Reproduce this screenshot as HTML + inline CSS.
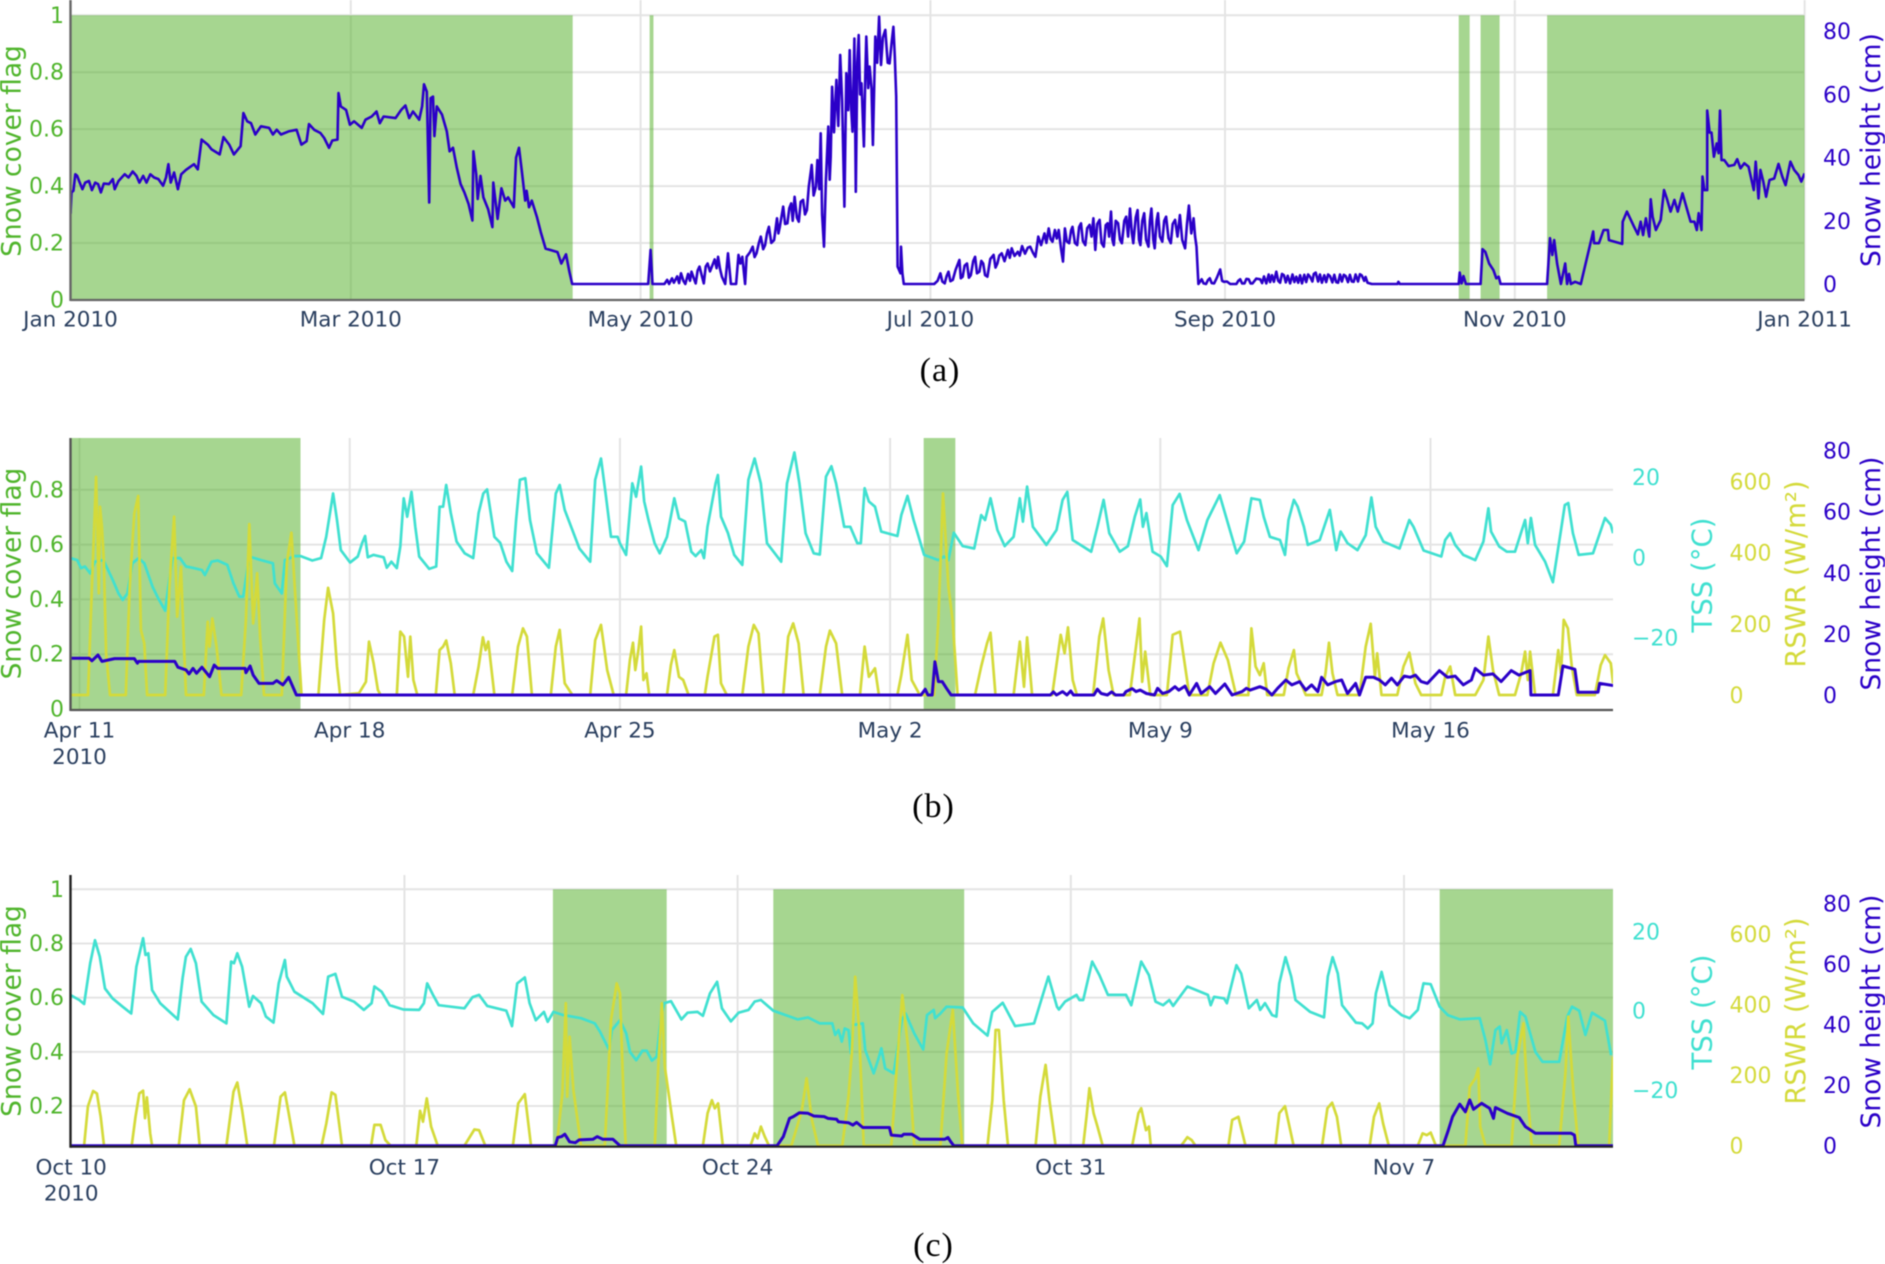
<!DOCTYPE html>
<html lang="en">
<head>
<meta charset="utf-8">
<title>Snow cover flag, snow height, TSS and RSWR</title>
<style>
html,body{margin:0;padding:0;background:#fff;}
svg{display:block;font-family:"DejaVu Sans","Liberation Sans",sans-serif;filter:blur(0.4px);}
</style>
</head>
<body>
<svg id="figure" xmlns="http://www.w3.org/2000/svg" width="1885" height="1264" viewBox="0 0 1885 1264"></svg>
<script>
// ---- Panel (a): [day since 1 Jan 2010, value] ----
const flagBandsA = [[0,105.7],[121.9,122.7],[292.2,294.5],[296.8,300.8],[310.8,365]];
const xTicksA = [[0,'Jan 2010'],[59,'Mar 2010'],[120,'May 2010'],[181,'Jul 2010'],[243,'Sep 2010'],[304,'Nov 2010'],[365,'Jan 2011']];
const flagTicksA = [0,0.2,0.4,0.6,0.8,1];
const snowTicksA = [0,20,40,60,80];
const snowA = [[0,22.2],[.2,29],[.6,29.5],[1,34.7],[1.4,34.2],[1.8,32.6],[2.5,30],[3.1,32.1],[3.9,32.6],[4.5,29.7],[5.2,32.1],[5.8,31.6],[6.4,29],[7,31.8],[8.1,31.6],[8.9,33.2],[9.3,30],[10.1,32.6],[11.4,34.7],[12.2,33.7],[13.1,35.6],[13.9,34.2],[14.5,32.1],[15.3,34.2],[16,32.1],[16.8,34.7],[17.6,33.7],[18.5,33.2],[19.5,31.1],[20.1,33.7],[20.6,37.9],[21.1,32.1],[21.8,35.3],[22.6,30],[23.3,34.7],[24.3,36.1],[26,37.9],[26.8,36.3],[27.6,45.7],[28.9,44.1],[29.7,42.6],[31.4,41],[32.2,46.5],[33.4,44.1],[34.4,41],[35.8,43.6],[36.4,54.1],[37.2,51.5],[38,50.9],[38.9,47.3],[40.1,49.9],[41.8,49.4],[42.6,47.3],[43.4,48.8],[44.3,47.3],[45.9,48.3],[47.6,48.8],[48.6,44.1],[49.7,45.2],[50.2,50.6],[51.3,48.8],[52.6,47.8],[53.4,46.2],[54.4,43.1],[55.1,45.4],[56.2,45.7],[56.4,60.4],[56.9,56.2],[58,55.1],[58.8,50.4],[59.7,51.5],[61.3,49.4],[62.1,52],[63.4,53],[64.4,54.6],[65.1,50.9],[65.9,53],[68.4,52.5],[69.6,55.1],[70.5,56.5],[71.3,52.5],[72.1,54.6],[73.4,52],[74,56.2],[74.4,63.2],[75,60.9],[75.5,25.8],[75.8,58.8],[76.3,59.3],[76.6,46.8],[77.1,56.2],[78.2,53.6],[79.2,48.3],[79.8,42],[80.5,43.1],[81.3,36.8],[82.1,31.6],[82.9,29],[83.8,25.3],[84.6,20.1],[84.8,42],[85.4,34.7],[85.7,26.9],[86.3,34.2],[86.9,27.4],[87.9,23.7],[88.8,18],[89,32.1],[89.9,20.6],[90.7,30.3],[91.5,26.4],[92.1,27.4],[93.3,24.3],[93.8,40],[94.4,43.1],[95,35.8],[95.7,26.4],[96,29.5],[96.5,24.3],[97.1,26.4],[98.2,21.1],[99,16.4],[100,11.2],[101.2,10.7],[102.5,10.1],[103.3,6.5],[104.3,9.4],[105,3.9],[105.6,0],
[121.6,0],[122.1,10.8],[122.5,0],[125,0],[125.6,1.3],[126,0],[126.6,1.8],[127,.4],[127.7,2.4],[128.1,.3],[128.5,3.4],[129,1],[129.4,0],[130,3.2],[130.4,1],[130.7,3.9],[131.2,1.8],[131.6,.2],[132,4.2],[132.4,5.5],[132.9,2.5],[133.3,.2],[133.7,5.5],[134.1,6.5],[134.6,4],[135,5.5],[135.6,7.8],[136,5],[136.3,8.6],[136.7,4.8],[137.1,2.3],[137.8,0],[138.4,9.7],[139,0],[140.1,0],[140.6,9.2],[141,6.5],[141.4,8.6],[142,0],[142.3,8.6],[143,10],[143.6,11.8],[144,8.5],[144.4,9.7],[144.9,13],[145.3,15],[145.8,11],[146.2,12.3],[146.6,16],[147,18.1],[147.5,13],[148.1,13.9],[148.7,20.8],[149,16],[149.3,18.1],[150,24.5],[150.4,19],[150.9,19.2],[151.3,24],[151.7,25.5],[152,20],[152.4,27.6],[152.9,21],[153.3,19.7],[153.7,26],[154.2,26.6],[154.6,22],[155,23.4],[155.4,30.8],[156,37.7],[156.4,28],[156.9,30.8],[157.2,39.2],[157.6,30],[157.9,47.7],[158.2,22],[158.6,11.8],[159,32.9],[159.5,49.8],[159.8,33],[160,40.3],[160.3,62.4],[160.7,48],[161.2,64.6],[161.6,50],[162,72.5],[162.4,58],[162.9,24.5],[163.3,66.7],[163.7,55],[164,74],[164.3,56],[164.6,48.2],[165,77.7],[165.3,29.2],[165.6,70],[165.9,78.8],[166.2,60],[166.5,63.5],[167,43.5],[167.3,66],[167.5,78.3],[167.9,62],[168.2,68.8],[168.6,62],[168.9,44],[169.4,78.3],[169.8,70],[170.2,84.6],[170.6,69.3],[171,78],[171.5,80.4],[172,70],[172.4,69.8],[172.8,76],[173.2,81.4],[173.5,72],[173.8,59.3],[174.1,5.5],[174.7,3.4],[174.8,11.8],[175.1,3.4],[175.4,0],
[181.8,0],[182.5,1],[183.1,3.4],[183.5,.8],[184,.2],[184.4,2.5],[184.8,3.9],[185.2,.9],[185.7,1.3],[186.3,4.5],[187.1,7.6],[187.4,1.8],[187.8,2.3],[188.2,5.8],[188.7,6.5],[189.1,2],[189.5,2.8],[190,7.2],[190.4,8.6],[190.8,3.4],[191.3,3.9],[191.7,7.3],[192.1,6.5],[192.5,2.8],[193,2.3],[193.6,7.9],[194.3,9.2],[194.7,5.2],[195.1,6.5],[195.5,9],[196,9.7],[196.6,7.2],[197.3,10.8],[197.7,8.3],[198.1,11.3],[198.7,8.9],[199.4,10.2],[199.8,9],[200.3,12],[200.9,9.6],[201.5,11.5],[202,11.8],[202.6,9.8],[203.1,8.6],[203.7,15],[204.3,12.3],[205,16],[205.4,13],[205.9,17.6],[206.3,14.2],[206.7,13.4],[207.2,17.1],[207.6,14.4],[208,17.1],[208.5,11],[208.9,7.1],[209.3,17.6],[209.7,13.5],[210.2,12.9],[210.6,17],[210.9,18.1],[211.4,13],[211.9,12.3],[212.3,18],[212.7,19.2],[213.1,13.6],[213.6,12.3],[214,17.7],[214.5,18.7],[214.9,15],[215.3,20.8],[215.7,10.8],[216.1,19],[216.6,20.3],[217,13],[217.5,11.8],[217.9,18.6],[218.3,19.2],[218.6,15],[219,22.9],[219.3,14],[219.6,12.3],[220,20],[220.5,19.2],[220.9,14],[221.3,12.9],[221.8,20],[222.2,21.3],[222.6,15],[223,23.9],[223.4,16],[223.7,12.9],[224.2,21],[224.6,23.4],[224.9,14],[225.2,12.3],[225.6,20],[226,22.4],[226.4,14],[226.9,11.8],[227.2,20],[227.5,23.9],[227.9,14],[228.2,11.3],[228.6,20],[228.9,22.4],[229.3,15],[229.8,13.4],[230.2,20],[230.6,21.3],[231.1,14.5],[231.6,12.9],[232,19],[232.5,20.3],[233,15],[233.5,21.8],[234,14],[234.6,11.3],[235,19],[235.4,24.8],[235.9,16],[236.4,20.8],[236.7,15],[237,11.8],[237.4,0],[238.1,1.5],[238.5,.2],[239,0],[239.4,1.2],[239.8,1.8],[240.2,.3],[240.7,.2],[241.3,2],[242,4.6],[242.4,1],[242.8,.7],[243.4,.8],[244.1,0],[245.4,0],[245.8,1],[246.2,1.5],[246.6,.2],[247.1,.2],[247.5,1.6],[248,1.5],[248.4,.2],[248.8,.2],[249.6,1.7],[250.4,1.5],
[250.8,.3],[251.2,2.4],[251.7,.2],[252.2,3],[252.5,.6],[252.9,2.8],[253.3,.7],[253.8,3.9],[254.2,1],[254.6,.4],[255,3.2],[255.4,2.8],[255.8,.5],[256.2,2.6],[256.7,.2],[257.2,3],[257.6,.6],[258,2.3],[258.4,.4],[258.8,2.8],[259.2,.2],[259.7,2.9],[260.1,.6],[260.5,3],[260.9,2.3],[261.4,.8],[261.7,3.2],[262.1,3.6],[262.6,.8],[263,3],[263.4,.4],[263.9,2.8],[264.3,.6],[264.7,3],[265.1,2.5],[265.6,.5],[266,2.9],[266.4,.6],[266.8,.4],[267.2,3],[267.6,.8],[268,2.9],[268.4,2.5],[268.9,.6],[269.3,2.9],[269.7,.8],[270.1,.7],[270.5,3],[271,.8],[271.4,3.1],[271.8,2.7],[272.3,1],[272.6,2.2],[273,.4],[273.9,0],[279.3,0],[279.5,.7],[279.8,0],[292.2,0],[292.4,3.6],[292.8,.2],[293.2,2.5],[293.7,0],[296.8,0],[297.2,11],[297.8,10.2],[298.6,6.5],[299.5,4.4],[300.1,1.8],[300.6,2.3],[301,0],[310.8,0],[311.4,14.5],[311.9,9.2],[312.3,13.9],[312.9,6.5],[313.7,0],[314.6,6.5],[315,0],[315.4,3.2],[315.8,0],[316.7,.7],[317.9,0],[320.5,16.6],[320.7,12.9],[321.7,12.9],[322.7,17.1],[323.6,17.1],[323.8,13.9],[326.6,12.7],[326.7,19.7],[327.6,22.9],[329.1,18.1],[329.9,15.7],[330.5,19.7],[331,15.5],[331.6,20.8],[332.3,15],[332.6,26.8],[333,21.3],[333.7,17.1],[334.7,20.3],[335.4,29.7],[336,27.1],[336.8,22.9],[337.6,26.6],[338.3,22.9],[339.3,28.7],[340.2,23.9],[341,19.7],[341.8,19.7],[342.3,17.1],[342.7,22.4],[343.3,17.1],[343.5,34],[343.9,29.7],[344.5,29.7],[344.5,54.9],[345,47.9],[345.4,47.9],[345.9,40.3],[346.5,44.5],[346.9,41.4],[347.2,54.9],[347.5,39.2],[348.1,39.2],[349,37.3],[350.2,37.7],[350.8,39.5],[351.5,36.6],[352.3,38.2],[353.2,37.1],[354.3,29.7],[354.7,38.7],[355.3,27.1],[355.7,36.1],[356.3,32.4],[356.9,27.6],[357.6,32.9],[358.6,33.4],[359.5,38],[360.3,34],[361,31.3],[362,38.7],[362.8,36.1],[363.7,34.5],[364.3,32.4],[365,35]];

// ---- Panel (b): [day since 11 Apr 2010, value] ----
const flagBandsB = [[-1,5.725],[21.87,22.69]];
const xTicksB = [[0,'Apr 11'],[7,'Apr 18'],[14,'Apr 25'],[21,'May 2'],[28,'May 9'],[35,'May 16']];
const flagTicksB = [0,0.2,0.4,0.6,0.8];
const tssTicksB = [-20,0,20];
const rswrTicksB = [0,200,400,600];
const snowTicksB = [0,20,40,60,80];
const tssB = [[-.24,-.2],[-.06,-.7],[.04,-2.7],[.14,-2.3],[.28,-4],[.4,-1.1],[.62,-.7],[.86,-5.6],[1.01,-9],[1.12,-10.6],[1.24,-9],[1.37,-1.5],[1.53,-.2],[1.68,-1.5],[1.89,-7.3],[2.04,-10.2],[2.22,-13.3],[2.3,-7.3],[2.41,-.2],[2.6,-.2],[2.76,-2.3],[2.96,-2.7],[3.17,-3.2],[3.25,-4.4],[3.42,-1.1],[3.58,-.8],[3.83,-1.9],[3.99,-6.5],[4.14,-9.8],[4.24,-9.8],[4.4,.2],[4.7,-.7],[5.01,-1.5],[5.06,-6.5],[5.24,-9],[5.32,-.7],[5.57,.3],[5.73,.3],[6.03,-.8],[6.26,-.2],[6.39,5.1],[6.57,15.9],[6.67,9.3],[6.77,1.8],[7.01,-1.3],[7.21,.2],[7.32,3.5],[7.4,5.3],[7.47,0],[7.62,.6],[7.88,0],[7.96,-2.6],[8.08,-1.1],[8.22,-2.7],[8.31,2.7],[8.4,14.7],[8.49,10.1],[8.6,16.3],[8.7,7.6],[8.8,.2],[9.06,-2.9],[9.24,-2.3],[9.33,12.6],[9.42,12.6],[9.5,18],[9.62,11],[9.77,3.9],[9.98,1],[10.2,-.2],[10.34,11],[10.46,15.9],[10.56,16.9],[10.75,5.1],[10.9,3.6],[11.06,-1.1],[11.21,-3.4],[11.31,9.3],[11.41,19.3],[11.55,19.7],[11.67,9.3],[11.85,1],[12.16,-2.6],[12.34,15.9],[12.44,18],[12.57,11.8],[12.95,2.2],[13.23,-1.1],[13.36,19.3],[13.51,24.6],[13.64,15.1],[13.77,5.1],[13.94,5.1],
[14,3.5],[14.16,.6],[14.32,18.4],[14.42,15.1],[14.55,22.6],[14.63,13.9],[14.74,9.3],[14.9,3.5],[15.03,1],[15.22,5.1],[15.41,14.7],[15.53,9.7],[15.69,8.9],[15.85,1.4],[15.96,.3],[16.11,1.8],[16.18,-.2],[16.27,7.6],[16.48,18.4],[16.54,20.5],[16.62,10.1],[16.8,6],[16.96,.6],[17.17,-1.9],[17.33,19.3],[17.49,24.6],[17.65,18.4],[17.81,3.5],[18.18,-1.1],[18.33,18.4],[18.52,26.1],[18.65,18.4],[18.81,6],[19.02,1],[19.18,.7],[19.34,20.1],[19.48,22.7],[19.6,18.4],[19.81,7.6],[19.97,7.6],[20.15,3.5],[20.24,3.5],[20.34,17.2],[20.45,13.9],[20.61,12.6],[20.77,6.4],[21.19,5.3],[21.29,10.5],[21.45,15.3],[21.61,9.3],[21.88,.6],[22.25,-.7],[22.4,.2],[22.51,-.7],[22.65,6.1],[22.88,2.8],[23.18,2.2],[23.36,10.5],[23.46,9.3],[23.6,14.7],[23.78,6.8],[23.97,2.8],[24.2,5.1],[24.36,14.7],[24.44,8.9],[24.55,17.6],[24.7,7.6],[25.05,3.1],[25.31,6.8],[25.47,14.3],[25.59,16.3],[25.73,4.3],[26.21,1.4],[26.37,7.6],[26.53,14.3],[26.68,6],[26.95,1.4],[27.16,2.8],[27.34,10.1],[27.48,14.4],[27.55,7.6],[27.64,11],[27.8,1.4],[28.01,.2],[28.17,-2.2],[28.32,13],[28.5,15.8],[28.69,9.3],[28.99,1.8],[29.22,9.3],[29.54,15.5],[29.75,8.5],[29.98,1],[30.17,3.9],[30.36,14.7],
[30.58,14.3],[30.68,10.1],[30.84,5.1],[31.1,4.3],[31.23,.6],[31.32,9.3],[31.46,14.3],[31.56,12.6],[31.72,7.6],[31.82,3.1],[32.13,4.3],[32.39,11.8],[32.56,1.8],[32.67,6.4],[32.85,3.5],[33.11,1.8],[33.32,5.5],[33.47,14.9],[33.58,7.6],[33.78,3.9],[34.2,2.2],[34.45,9.3],[34.56,7.6],[34.82,1.7],[35.28,.2],[35.38,4.3],[35.51,6],[35.64,3.1],[35.85,.6],[36.16,-.7],[36.37,3.9],[36.5,12.2],[36.57,6.4],[36.78,2.7],[36.98,1.4],[37.19,1.4],[37.45,9.3],[37.52,3.5],[37.6,9.8],[37.71,3.1],[37.97,-1.1],[38.17,-6.2],[38.38,6.8],[38.48,13],[38.57,13.5],[38.69,6],[38.84,.6],[39.21,1],[39.52,9.8],[39.67,8.1],[39.73,6]];
const rswrB = [[-.24,0],[.22,0],[.32,304],[.43,613],[.5,286],[.53,529],[.58,473],[.63,379],[.69,117],[.79,0],[1.2,0],[1.3,304],[1.42,510],[1.52,559],[1.59,183],[1.68,145],[1.75,0],[2.22,0],[2.33,304],[2.45,501],[2.53,220],[2.63,360],[2.68,211],[2.76,0],[3.22,0],[3.32,206],[3.37,136],[3.44,215],[3.55,136],[3.68,0],[4.19,0],[4.31,211],[4.4,480],[4.5,201],[4.6,342],[4.68,164],[4.78,0],[5.24,0],[5.37,370],[5.49,456],[5.63,211],[5.75,0],[6.19,0],[6.34,211],[6.44,301],[6.57,229],[6.67,80],[6.75,0],[7.24,5],[7.42,37],[7.5,150],[7.62,89],[7.73,14],[7.8,0],[8.22,0],[8.31,178],[8.41,164],[8.51,51],[8.57,164],[8.65,42],[8.75,0],[9.23,0],[9.33,126],[9.42,136],[9.5,153],[9.62,89],[9.72,0],[10.2,0],[10.34,80],[10.45,162],[10.52,126],[10.59,150],[10.75,0],[11.21,0],[11.36,136],[11.49,187],[11.59,164],[11.72,0],[12.21,0],[12.34,136],[12.44,183],[12.57,33],[12.77,0],[13.23,0],[13.36,154],[13.51,197],[13.67,70],[13.84,0],
[14.16,0],[14.26,98],[14.34,147],[14.4,70],[14.48,126],[14.55,192],[14.61,42],[14.69,61],[14.76,0],[15.22,0],[15.32,84],[15.41,126],[15.53,51],[15.64,42],[15.78,0],[16.2,0],[16.27,51],[16.45,164],[16.54,169],[16.62,33],[16.77,0],[17.17,0],[17.33,136],[17.47,197],[17.59,173],[17.72,0],[18.23,0],[18.36,164],[18.49,201],[18.63,145],[18.76,0],[19.18,0],[19.34,136],[19.44,181],[19.6,145],[19.76,0],[20.22,0],[20.34,136],[20.45,51],[20.61,75],[20.71,0],[21.19,0],[21.29,56],[21.45,169],[21.56,42],[21.77,0],[22.14,0],[22.25,211],[22.37,566],[22.51,304],[22.62,211],[22.75,0],[23.2,0],[23.36,80],[23.51,145],[23.6,175],[23.73,0],[24.2,0],[24.36,150],[24.47,23],[24.55,162],[24.68,0],[25.2,0],[25.42,169],[25.52,117],[25.61,190],[25.73,42],[25.84,0],[26.26,0],[26.42,164],[26.52,215],[26.66,70],[26.79,0],[27.21,0],[27.37,136],[27.46,215],[27.53,37],[27.61,122],[27.74,0],[28.17,0],[28.32,169],[28.51,178],[28.75,0],[29.22,0],[29.38,89],[29.56,147],[29.75,98],[29.96,0],[30.28,0],[30.36,187],[30.47,80],
[30.58,56],[30.68,89],[30.77,0],[31.2,0],[31.32,75],[31.46,126],[31.53,61],[31.61,42],[31.77,0],[32.18,0],[32.28,61],[32.37,147],[32.46,61],[32.59,0],[33.16,0],[33.32,136],[33.45,200],[33.56,51],[33.62,117],[33.73,0],[34.14,0],[34.3,80],[34.45,119],[34.61,33],[34.76,0],[35.28,0],[35.38,51],[35.51,80],[35.64,0],[36.16,0],[36.37,42],[36.5,164],[36.62,70],[36.78,0],[37.19,0],[37.35,61],[37.45,122],[37.52,42],[37.58,122],[37.71,0],[38.17,0],[38.31,126],[38.38,61],[38.45,211],[38.56,187],[38.66,80],[38.79,0],[39.26,0],[39.41,84],[39.52,112],[39.67,89],[39.73,33]];
const snowB = [[-.24,12],[.25,12],[.32,11.2],[.48,13.1],[.58,11],[.91,11.9],[1.42,11.9],[1.5,10.4],[1.53,11],[2.47,11],[2.55,9.1],[2.76,8.2],[2.84,6.9],[2.94,8.7],[3.03,7.1],[3.17,9.1],[3.37,6],[3.49,9.8],[3.58,8.7],[4.29,8.7],[4.31,7.3],[4.42,9.5],[4.5,6.5],[4.65,3.8],[5.01,3.8],[5.11,4.7],[5.27,3.3],[5.42,5.8],[5.62,0],[21.8,0],[21.91,1.9],[21.98,0],[22.09,0],[22.16,10.9],[22.25,4.4],[22.35,4.4],[22.46,2.2],[22.58,0],[25.15,0],[25.23,1],[25.31,0],[25.47,1.1],[25.58,0],[25.68,1.3],[25.75,0],[26.28,0],[26.37,1.9],[26.47,.5],[26.63,0],[26.74,1],[26.84,0],[27.05,0],[27.11,1.1],[27.27,2.1],[27.37,1.1],[27.48,1.6],[27.64,.5],[27.85,0],[27.93,2.2],[28.06,.5],[28.22,1.1],[28.38,2.7],[28.48,1.6],[28.64,2.9],[28.75,0],[28.94,3.8],[29.06,.5],[29.28,2.7],[29.43,.5],[29.67,3.6],[29.86,0],[30.12,1.1],[30.23,2.2],[30.33,1.6],
[30.58,2.7],[30.74,1.9],[30.89,0],[31.04,2.2],[31.25,4.9],[31.41,3.3],[31.61,4.4],[31.77,1.6],[31.92,3.3],[32.08,1.1],[32.18,5.8],[32.34,3.3],[32.54,4.4],[32.7,4.9],[32.85,.5],[33.06,3.8],[33.16,0],[33.32,5.8],[33.52,5.8],[33.68,4.9],[33.83,3.3],[33.99,5.5],[34.14,3.3],[34.32,6.2],[34.48,5.8],[34.61,6.5],[34.76,4.4],[34.92,3.8],[35.23,8],[35.44,5.8],[35.64,6.2],[35.85,3.3],[36.06,4.9],[36.16,8.7],[36.37,6.5],[36.62,6.9],[36.83,4.4],[37.09,8],[37.29,6.5],[37.58,8],[37.6,0],[38.31,0],[38.43,9.5],[38.74,8.4],[38.82,.9],[39.34,.9],[39.38,3.8],[39.73,3.1]];

// ---- Panel (c): [day since 10 Oct 2010, value] ----
const flagBandsC = [[10.12,12.51],[14.75,18.76],[28.75,33]];
const xTicksC = [[0,'Oct 10'],[7,'Oct 17'],[14,'Oct 24'],[21,'Oct 31'],[28,'Nov 7']];
const flagTicksC = [0.2,0.4,0.6,0.8,1];
const tssTicksC = [-20,0,20];
const rswrTicksC = [0,200,400,600];
const snowTicksC = [0,20,40,60,80];
const tssC = [[-.02,4],[.17,2.7],[.27,1.7],[.4,12],[.5,17.8],[.6,13.6],[.71,5.6],[.87,3.1],[1.08,1],[1.26,-.7],[1.37,11.1],[1.51,18.3],[1.56,14.1],[1.62,14.5],[1.7,5.2],[1.87,1.9],[2.24,-2.2],[2.34,8.2],[2.41,13.6],[2.51,15.6],[2.62,12],[2.74,2.3],[2.99,-1.1],[3.26,-3.2],[3.36,12.4],[3.42,12],[3.49,14.5],[3.59,11.1],[3.74,1],[3.82,3.7],[3.99,1.9],[4.09,-1.5],[4.25,-3],[4.36,6.9],[4.49,12.8],[4.53,8.6],[4.69,4.8],[5.07,1.9],[5.29,-.8],[5.4,8.6],[5.55,9.3],[5.69,3.5],[5.94,2.3],[6.15,.2],[6.31,1.9],[6.37,6.1],[6.52,4.8],[6.69,1.4],[6.98,.3],[7.31,.2],[7.41,1.9],[7.48,6.9],[7.6,4],[7.72,1.4],[8.26,.6],[8.43,3.4],[8.57,4],[8.74,1.2],[9.14,0],[9.26,-3.9],[9.37,6.9],[9.53,8.4],[9.63,1.9],[9.76,-2.4],[9.93,-.3],[10.01,-2.8],[10.13,-.3],[10.34,-1.1],[10.71,-1.9],[11,-3.2],[11.11,-5.3],[11.3,-9.9],[11.36,-4.9],
[11.53,-2.4],[11.66,-5.7],[11.74,-10.4],[11.87,-12.5],[12,-10.1],[12.09,-10.1],[12.2,-12.6],[12.3,-11.6],[12.39,-1.5],[12.46,1.9],[12.6,2.4],[12.82,-2.2],[12.95,-.5],[13.16,-.3],[13.27,-1.3],[13.42,4.4],[13.57,7.3],[13.67,.6],[13.86,-2.7],[14.02,-.5],[14.23,.2],[14.36,2.3],[14.49,2.7],[14.75,0],[15.26,-2.2],[15.48,-1.7],[15.73,-3.2],[15.99,-3.2],[16.05,-6.1],[16.12,-4.9],[16.19,-7.8],[16.25,-4.5],[16.33,-4.9],[16.38,-10.8],[16.42,-3.6],[16.63,-3.2],[16.68,-9.9],[16.86,-15.8],[16.95,-12.5],[17.02,-9.5],[17.1,-14.6],[17.28,-15.8],[17.45,-2.4],[17.53,-.7],[17.71,-5.7],[17.9,-9.8],[17.98,-1.1],[18.12,.2],[18.15,-1.9],[18.26,-.7],[18.39,1],[18.73,.8],[18.95,-3.2],[19.25,-6.3],[19.35,-.3],[19.57,2],[19.83,-3.9],[20.23,-3.2],[20.53,8.6],[20.71,1],[20.75,.3],[20.88,2.3],[21.12,4],[21.18,2.7],[21.26,2.7],[21.45,12.4],[21.6,9],[21.78,4],[22.16,4],[22.27,1.4],[22.48,12.4],[22.64,9],[22.78,2.3],[22.94,1.4],[23.07,2.7],[23.15,1.2],[23.45,6.1],[23.88,4],[23.94,1.4],[24.01,3.5],[24.22,3.1],[24.28,1.9],[24.48,11.5],[24.58,9.4],[24.74,.6],[24.91,2.7],
[24.98,.2],[25.08,1.9],[25.23,-1.1],[25.32,-1.5],[25.38,6.9],[25.51,13.5],[25.63,8.6],[25.72,2.7],[26.03,-.3],[26.32,-1.7],[26.4,8.6],[26.5,13.5],[26.61,9.4],[26.7,1.4],[26.99,-3],[27.12,-3.2],[27.24,-4.5],[27.34,-3.2],[27.41,4.4],[27.53,9.8],[27.7,1.4],[27.95,-1.1],[28.12,-1.9],[28.29,.2],[28.41,6.9],[28.56,6.7],[28.75,1],[28.92,-1.1],[29.17,-2.2],[29.59,-1.9],[29.71,-7.4],[29.81,-13.5],[29.92,-4.9],[30.01,-4],[30.05,-8.2],[30.16,-4.9],[30.26,-10.8],[30.34,-10.4],[30.44,-.3],[30.55,-1.5],[30.76,-10.4],[30.91,-12.9],[31.26,-12.9],[31.43,-1.5],[31.53,1],[31.68,0],[31.81,-6.1],[31.95,-.5],[32.22,-2.5],[32.35,-11.2]];
const rswrC = [[.27,0],[.35,111],[.46,155],[.54,148],[.62,82],[.69,0],[1.27,0],[1.35,82],[1.43,148],[1.51,156],[1.55,78],[1.59,137],[1.66,35],[1.7,0],[2.26,0],[2.37,129],[2.49,160],[2.62,111],[2.7,0],[3.26,0],[3.41,153],[3.49,179],[3.59,101],[3.7,0],[4.26,0],[4.4,139],[4.49,151],[4.57,92],[4.69,0],[5.26,0],[5.36,63],[5.47,151],[5.55,144],[5.69,0],[6.3,0],[6.37,59],[6.5,59],[6.6,16],[6.71,0],[7.25,0],[7.33,99],[7.39,68],[7.47,134],[7.56,54],[7.7,0],[8.26,0],[8.47,46],[8.57,44],[8.7,0],[9.28,0],[9.39,120],[9.53,146],[9.66,0],[10.2,0],[10.32,148],[10.39,404],[10.42,139],[10.47,309],[10.55,158],[10.71,0],[11.21,0],[11.34,356],[11.46,460],
[11.53,432],[11.6,148],[11.65,0],[12.26,0],[12.34,243],[12.41,404],[12.47,224],[12.56,139],[12.62,82],[12.71,0],[13.27,0],[13.37,92],[13.46,129],[13.52,106],[13.59,120],[13.69,0],[14.27,0],[14.36,35],[14.42,21],[14.49,54],[14.57,26],[14.66,0],[15.13,0],[15.35,101],[15.45,191],[15.56,73],[15.69,0],[16.2,0],[16.33,139],[16.4,262],[16.47,479],[16.55,337],[16.65,0],[17.23,0],[17.36,252],[17.46,427],[17.58,281],[17.71,0],[18.26,0],[18.39,262],[18.52,385],[18.63,148],[18.72,0],[19.25,0],[19.35,129],[19.42,328],[19.49,328],[19.59,129],[19.68,0],[20.26,0],[20.36,139],[20.47,229],[20.55,129],[20.68,0],[21.26,0],[21.33,82],[21.39,163],[21.48,92],[21.56,54],[21.67,0],[22.29,0],[22.42,92],[22.48,106],[22.58,44],[22.64,54],[22.68,0],[23.32,0],[23.45,24],[23.54,16],[23.62,0],[24.31,0],[24.39,73],[24.52,82],[24.67,0],
[25.3,0],[25.38,92],[25.5,112],[25.58,63],[25.68,0],[26.28,0],[26.39,106],[26.49,122],[26.59,82],[26.68,0],[27.28,0],[27.37,82],[27.48,120],[27.56,63],[27.68,0],[28.29,0],[28.39,35],[28.48,30],[28.56,37],[28.67,0],[29.29,0],[29.38,167],[29.5,191],[29.56,219],[29.6,54],[29.71,0],[30.26,0],[30.38,252],[30.51,347],[30.57,196],[30.68,0],[31.26,0],[31.39,205],[31.45,366],[31.55,167],[31.66,0],[32.31,0],[32.39,252]];
const snowC = [[-.1,0],[10.17,0],[10.22,2.7],[10.3,3],[10.37,3.8],[10.47,1.3],[10.59,1],[10.67,1.9],[10.96,2.1],[11.05,3],[11.17,2.1],[11.38,2.1],[11.53,0],[14.83,0],[14.96,3],[15.09,9],[15.17,9.6],[15.3,10.9],[15.48,10.7],[15.6,9.8],[15.82,9.6],[15.9,9],[16.08,8.7],[16.12,7.9],[16.33,7.6],[16.42,6.8],[16.5,7.7],[16.63,6],[17.19,6],[17.23,3.5],[17.45,3.2],[17.49,3.8],[17.66,3.8],[17.83,2.1],[18.35,2.1],[18.42,2.7],[18.48,1.3],[18.54,0],[28.82,0],[28.92,4.6],[29.02,9.6],[29.17,13.7],[29.29,11.2],[29.38,15.1],[29.46,12],[29.63,14],[29.8,12.3],[29.88,9],[29.92,12.6],[30.17,10.7],[30.42,9.3],[30.55,6.3],[30.76,4.1],[31.51,4.1],[31.58,3.5],[31.61,0],[32.4,0]];

// ---- Axis functions ----
const linear = (zero, pxPerUnit) => v => zero + pxPerUnit * v;
const panels = [
  { key:'a', left:70.5, right:1804.5, top:0, gridTop:15.3, bottom:300,
    x:linear(70.5,4.751), flag:linear(300,-284.7), snow:linear(284,-3.16),
    tss:null, rswr:null, bands:flagBandsA, xTicks:xTicksA, flagTicks:flagTicksA, snowTicks:snowTicksA,
    snowData:snowA, xLabelY:326.5, flagTitleY:151, snowTitleY:150, snowTickX:1823, axisColor:'#666', caption:'(a)', capX:940, capY:381, year:null },
  { key:'b', left:70.5, right:1613, top:438, gridTop:438, bottom:710,
    x:linear(79.5,38.6), flag:linear(709,-274), snow:linear(695,-3.056),
    tss:linear(557.3,-4.015), rswr:linear(695,-.356), bands:flagBandsB, xTicks:xTicksB, flagTicks:flagTicksB, snowTicks:snowTicksB,
    tssTicks:tssTicksB, rswrTicks:rswrTicksB, tssData:tssB, rswrData:rswrB, snowData:snowB,
    xLabelY:737.5, flagTitleY:573.5, snowTitleY:573.5, tssTitleY:575, rswrTitleY:574, snowTickX:1823, axisColor:'#555', caption:'(b)', capX:933.5, capY:817, year:764 },
  { key:'c', left:70.5, right:1613, top:875, gridTop:875, bottom:1146.7,
    x:linear(71.2,47.6), flag:linear(1160.2,-270.9), snow:linear(1145.7,-3.03),
    tss:linear(1010.7,-3.96), rswr:linear(1145.7,-.3528), bands:flagBandsC, xTicks:xTicksC, flagTicks:flagTicksC, snowTicks:snowTicksC,
    tssTicks:tssTicksC, rswrTicks:rswrTicksC, tssData:tssC, rswrData:rswrC, snowData:snowC,
    xLabelY:1174.5, flagTitleY:1011, snowTitleY:1011.5, tssTitleY:1012, rswrTitleY:1011, snowTickX:1823, axisColor:'#222', caption:'(c)', capX:933.5, capY:1256, year:1200.5 }
];

const GREEN_TEXT = '#50b52c', BAND = 'rgba(77,174,33,0.5)', BLUE = '#2b00c8', TURQ = '#40e0d0', YEL = '#d4da3a', INK = '#2a3f5f';
const NS = 'http://www.w3.org/2000/svg';
const svg = document.getElementById('figure');
const mk = (tag, parent) => { const n = document.createElementNS(NS, tag); parent.appendChild(n); return n; };
const setAll = (n, o) => { for (const k in o) n.setAttribute(k, o[k]); return n; };

function addText(parent, str, x, y, size, fill, anchor, name) {
  const t = mk('text', parent);
  setAll(t, {x:x, y:y, 'font-size':size, fill:fill, 'text-anchor':anchor});
  t.textContent = str;
  
  
  return t;
}
function addTitle(parent, str, x, cy, size, fill, name) {
  const t = addText(parent, str, x, cy, size, fill, 'middle', name);
  t.setAttribute('transform', 'rotate(-90 ' + x + ' ' + cy + ')');
  return t;
}
function addGrid(parent, x1, y1, x2, y2, name) {
  const l = mk('line', parent);
  setAll(l, {x1:x1, y1:y1, x2:x2, y2:y2, stroke:'#e4e4e4', 'stroke-width':2});
  
  
}
function addSeries(parent, data, xf, yf, color, width, name) {
  const p = mk('polyline', parent);
  const pts = data.map(d => xf(d[0]).toFixed(1) + ',' + yf(d[1]).toFixed(1)).join(' ');
  setAll(p, {points:pts, fill:'none', stroke:color, 'stroke-width':width, 'stroke-linejoin':'round'});
  
  
}

panels.forEach(P => {
  const g = mk('g', svg);
  
  

  const clip = mk('clipPath', g);
  clip.setAttribute('id', 'clip-' + P.key);
  setAll(mk('rect', clip), {x:P.left, y:P.top, width:P.right - P.left, height:P.bottom - P.top});

  P.xTicks.forEach(t => {
    if (t[0] > 0 || P.key === 'b') addGrid(g, P.x(t[0]), P.top, P.x(t[0]), P.bottom, 'x-gridline-' + P.key);
  });
  P.flagTicks.forEach(v => {
    if (v > 0) addGrid(g, P.left, P.flag(v), P.right, P.flag(v), 'y-gridline-' + P.key);
  });

  const plot = mk('g', g);
  plot.setAttribute('clip-path', 'url(#clip-' + P.key + ')');
  
  

  P.bands.forEach(b => {
    const r = mk('rect', plot);
    const yTop = Math.max(P.flag(1), P.top);
    setAll(r, {x:P.x(b[0]), y:yTop, width:P.x(b[1]) - P.x(b[0]), height:P.bottom - yTop, fill:BAND});
    
    
  });
  if (P.tssData) addSeries(plot, P.tssData, P.x, P.tss, TURQ, 2.7, 'tss-line-' + P.key);
  if (P.rswrData) addSeries(plot, P.rswrData, P.x, P.rswr, YEL, 2.7, 'rswr-line-' + P.key);
  addSeries(plot, P.snowData, P.x, P.snow, BLUE, P.key === 'a' ? 2.6 : 3, 'snow-height-line-' + P.key);

  const axL = mk('line', g);
  setAll(axL, {x1:P.left, y1:P.top, x2:P.left, y2:P.bottom + 1, stroke:P.axisColor, 'stroke-width':2.4});
  
  
  const axB = mk('line', g);
  setAll(axB, {x1:P.left, y1:P.bottom, x2:P.right, y2:P.bottom, stroke:P.axisColor, 'stroke-width':2.2});
  
  

  P.xTicks.forEach(t => addText(g, t[1], P.x(t[0]), P.xLabelY, 21.5, INK, 'middle', 'x-tick-label-' + P.key));
  if (P.year) addText(g, '2010', P.x(0), P.year, 21.5, INK, 'middle', 'x-year-label-' + P.key);

  P.flagTicks.forEach(v => addText(g, String(v), 64, P.flag(v) + 7.5, 22, GREEN_TEXT, 'end', 'flag-tick-label-' + P.key));
  addTitle(g, 'Snow cover flag', 20.5, P.flagTitleY, 26.5, GREEN_TEXT, 'flag-axis-title-' + P.key);

  P.snowTicks.forEach(v => addText(g, String(v), P.snowTickX, P.snow(v) + 8, 22, BLUE, 'start', 'snow-tick-label-' + P.key));
  addTitle(g, 'Snow height (cm)', 1880, P.snowTitleY, 26.5, BLUE, 'snow-axis-title-' + P.key);

  if (P.tssTicks) {
    P.tssTicks.forEach(v => addText(g, String(v).replace('-', '\u2212'), 1632, P.tss(v) + 8, 22, TURQ, 'start', 'tss-tick-label-' + P.key));
    addTitle(g, 'TSS (\u00b0C)', 1711.5, P.tssTitleY, 27.5, TURQ, 'tss-axis-title-' + P.key);
    P.rswrTicks.forEach(v => addText(g, String(v), 1729.5, P.rswr(v) + 8, 22, YEL, 'start', 'rswr-tick-label-' + P.key));
    addTitle(g, 'RSWR (W/m\u00b2)', 1805, P.rswrTitleY, 27.5, YEL, 'rswr-axis-title-' + P.key);
  }

  const cap = addText(g, P.caption, P.capX, P.capY, 34, '#000', 'middle', 'panel-caption-' + P.key);
  cap.setAttribute('font-family', '"Liberation Serif", serif');
  cap.setAttribute('letter-spacing', '1');
});
</script>
</body>
</html>
